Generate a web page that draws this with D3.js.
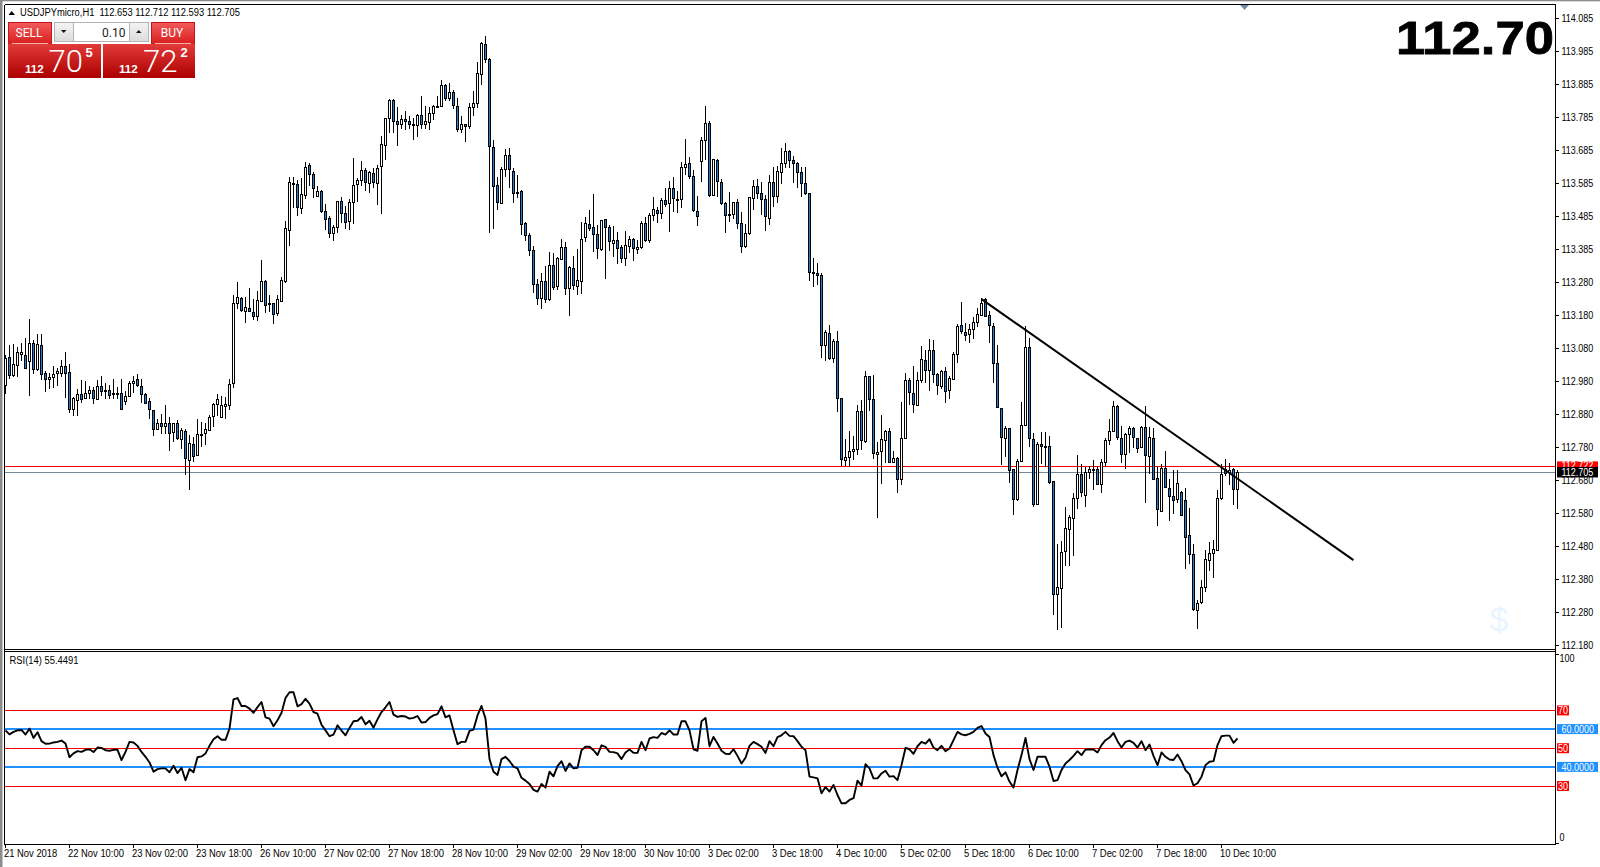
<!DOCTYPE html>
<html><head><meta charset="utf-8">
<script src="https://cdnjs.cloudflare.com/ajax/libs/d3/7.8.5/d3.min.js"></script>
<style>html,body{margin:0;padding:0;background:#fff}svg{display:block}text{font-family:"Liberation Sans",Arial,sans-serif}</style>
</head><body><svg id="c" width="1600" height="867"></svg>
<script>
const opens=[
112.971,113.056,113.002,113.031,113.062,113.060,113.043,113.099,113.019,113.093,
113.005,112.987,112.993,113.004,113.008,113.029,113.008,112.897,112.926,112.944,
112.932,112.947,112.956,112.929,112.968,112.956,112.956,112.947,112.947,112.947,
112.923,112.938,112.977,112.987,112.968,112.944,112.920,112.895,112.838,112.856,
112.847,112.856,112.825,112.853,112.806,112.829,112.743,112.792,112.758,112.819,
112.822,112.835,112.874,112.911,112.871,112.905,112.911,112.974,113.218,113.233,
113.196,113.205,113.193,113.178,113.227,113.287,113.218,113.218,113.187,113.227,
113.285,113.443,113.583,113.581,113.507,113.549,113.637,113.610,113.543,113.559,
113.498,113.476,113.431,113.449,113.528,113.492,113.467,113.525,113.580,113.592,
113.622,113.583,113.613,113.583,113.634,113.698,113.780,113.836,113.771,113.762,
113.777,113.771,113.764,113.758,113.789,113.762,113.768,113.795,113.817,113.816,
113.880,113.841,113.859,113.817,113.747,113.762,113.756,113.814,113.826,113.914,
114.005,113.959,113.694,113.577,113.522,113.625,113.668,113.619,113.557,113.558,
113.461,113.425,113.379,113.276,113.233,113.285,113.233,113.336,113.270,113.352,
113.388,113.264,113.324,113.270,113.288,113.418,113.458,113.449,113.428,113.382,
113.473,113.449,113.403,113.412,113.388,113.355,113.394,113.415,113.385,113.388,
113.461,113.409,113.485,113.501,113.491,113.531,113.522,113.567,113.534,113.534,
113.631,113.643,113.604,113.498,113.649,113.713,113.765,113.546,113.653,113.586,
113.522,113.488,113.488,113.525,113.461,113.391,113.431,113.537,113.574,113.552,
113.534,113.476,113.586,113.543,113.616,113.643,113.680,113.653,113.643,113.616,
113.583,113.552,113.312,113.309,113.304,113.090,113.127,113.051,113.103,112.929,
112.741,112.750,112.768,112.774,112.890,112.799,112.996,112.926,112.762,112.768,
112.802,112.829,112.735,112.747,112.683,112.808,112.984,112.945,112.908,112.984,
113.045,113.014,113.075,113.002,112.969,113.014,112.954,112.987,113.063,113.151,
113.130,113.124,113.139,113.160,113.182,113.231,113.182,113.148,113.036,112.899,
112.808,112.838,112.714,112.622,112.737,112.847,113.084,112.807,112.610,112.792,
112.786,112.786,112.677,112.333,112.355,112.464,112.534,112.567,112.628,112.701,
112.637,112.707,112.716,112.716,112.671,112.737,112.801,112.829,112.905,112.810,
112.759,112.820,112.838,112.810,112.780,112.841,112.756,112.810,112.686,112.589,
112.719,112.658,112.634,112.622,112.646,112.622,112.513,112.455,112.288,112.309,
112.355,112.440,112.461,112.470,112.628,112.715,112.707,112.715,112.653];
const highs=[
113.061,113.090,113.094,113.084,113.098,113.112,113.169,113.106,113.124,113.124,
113.011,113.005,113.027,113.023,113.047,113.069,113.035,112.932,112.959,112.985,
112.982,112.966,112.964,112.985,112.997,112.976,112.969,112.987,112.964,112.987,
112.952,112.982,112.997,113.002,112.987,112.946,112.930,112.895,112.868,112.881,
112.909,112.873,112.855,112.865,112.838,112.837,112.818,112.812,112.868,112.857,
112.855,112.878,112.914,112.942,112.938,112.934,112.987,113.242,113.284,113.236,
113.236,113.266,113.230,113.256,113.349,113.288,113.243,113.218,113.243,113.297,
113.467,113.601,113.603,113.593,113.598,113.647,113.644,113.618,113.576,113.561,
113.520,113.482,113.456,113.530,113.540,113.514,113.534,113.659,113.598,113.651,
113.628,113.621,113.628,113.639,113.725,113.780,113.839,113.839,113.816,113.790,
113.802,113.787,113.780,113.792,113.848,113.818,113.814,113.821,113.848,113.897,
113.884,113.887,113.866,113.841,113.787,113.762,113.826,113.863,113.951,114.012,
114.030,113.962,113.714,113.601,113.631,113.686,113.690,113.628,113.608,113.562,
113.466,113.431,113.392,113.291,113.309,113.333,113.373,113.370,113.358,113.413,
113.404,113.331,113.362,113.382,113.465,113.479,113.502,113.550,113.456,113.471,
113.475,113.457,113.453,113.435,113.394,113.438,113.423,113.418,113.412,113.467,
113.481,113.493,113.540,113.512,113.537,113.570,113.591,113.601,113.560,113.646,
113.716,113.662,113.623,113.544,113.722,113.818,113.771,113.656,113.656,113.595,
113.527,113.556,113.527,113.534,113.496,113.458,113.542,113.593,113.595,113.588,
113.546,113.608,113.631,113.635,113.689,113.704,113.684,113.666,113.646,113.631,
113.631,113.554,113.356,113.340,113.309,113.137,113.151,113.109,113.134,112.929,
112.805,112.830,112.815,112.908,112.924,113.012,112.998,113.000,112.796,112.879,
112.833,112.838,112.768,112.750,112.918,113.005,112.990,113.028,113.009,113.088,
113.076,113.109,113.107,113.005,113.017,113.024,112.997,113.070,113.155,113.221,
113.159,113.155,113.176,113.204,113.233,113.233,113.196,113.157,113.091,112.899,
112.845,112.840,112.714,112.744,112.918,113.149,113.112,112.825,112.797,112.827,
112.827,112.816,112.677,112.488,112.496,112.600,112.574,112.642,112.756,112.729,
112.721,112.725,112.742,112.721,112.744,112.810,112.867,112.921,112.910,112.845,
112.823,112.845,112.841,112.810,112.845,112.906,112.841,112.838,112.721,112.729,
112.768,112.683,112.713,112.713,112.648,112.656,112.595,112.488,112.316,112.377,
112.468,112.493,112.498,112.650,112.731,112.744,112.734,112.718,112.712];
const lows=[
112.944,112.989,112.993,112.995,113.043,113.021,112.937,113.003,113.013,112.985,
112.948,112.958,112.960,112.966,112.995,112.931,112.885,112.875,112.875,112.916,
112.932,112.928,112.912,112.928,112.938,112.928,112.926,112.926,112.926,112.897,
112.909,112.932,112.947,112.964,112.914,112.916,112.868,112.816,112.833,112.822,
112.820,112.770,112.797,112.802,112.777,112.697,112.652,112.736,112.754,112.782,
112.788,112.831,112.843,112.875,112.871,112.868,112.893,112.961,113.201,113.193,
113.159,113.193,113.167,113.165,113.224,113.189,113.191,113.155,113.181,113.224,
113.279,113.393,113.507,113.482,113.490,113.534,113.575,113.537,113.540,113.492,
113.441,113.416,113.406,113.433,113.461,113.443,113.441,113.459,113.527,113.575,
113.558,113.552,113.568,113.518,113.488,113.654,113.735,113.737,113.697,113.749,
113.745,113.749,113.714,113.724,113.749,113.749,113.745,113.775,113.811,113.814,
113.832,113.834,113.810,113.739,113.735,113.709,113.749,113.787,113.812,113.881,
113.949,113.431,113.445,113.502,113.522,113.603,113.568,113.524,113.537,113.427,
113.408,113.363,113.248,113.213,113.202,113.220,113.226,113.258,113.260,113.352,
113.244,113.180,113.258,113.244,113.246,113.404,113.439,113.374,113.354,113.378,
113.293,113.378,113.358,113.339,113.342,113.331,113.372,113.348,113.368,113.382,
113.404,113.402,113.469,113.463,113.475,113.510,113.436,113.495,113.493,113.508,
113.608,113.595,113.495,113.453,113.587,113.654,113.542,113.544,113.540,113.516,
113.433,113.466,113.475,113.445,113.370,113.386,113.426,113.502,113.534,113.487,
113.439,113.457,113.512,113.524,113.581,113.629,113.628,113.585,113.570,113.540,
113.546,113.287,113.269,113.274,113.052,113.044,113.046,113.036,112.889,112.724,
112.724,112.722,112.742,112.758,112.772,112.793,112.892,112.744,112.567,112.669,
112.732,112.734,112.734,112.641,112.665,112.808,112.908,112.886,112.908,112.975,
112.975,112.952,112.975,112.940,112.957,112.916,112.926,112.987,113.038,113.124,
113.105,113.099,113.109,113.147,113.180,113.176,113.097,112.975,112.899,112.728,
112.750,112.673,112.574,112.618,112.735,112.845,112.782,112.600,112.606,112.729,
112.721,112.669,112.271,112.227,112.231,112.419,112.419,112.450,112.592,112.630,
112.600,112.685,112.650,112.665,112.642,112.721,112.787,112.827,112.804,112.733,
112.715,112.762,112.780,112.762,112.779,112.612,112.701,112.681,112.541,112.586,
112.660,112.557,112.579,112.610,112.575,112.411,112.427,112.284,112.229,112.306,
112.340,112.405,112.385,112.468,112.620,112.693,112.666,112.605,112.593];
const closes=[
113.053,113.002,113.035,113.069,113.069,113.022,113.099,113.020,113.096,113.004,
112.987,112.993,113.002,113.011,113.029,113.008,112.897,112.929,112.944,112.929,
112.947,112.956,112.932,112.968,112.953,112.953,112.941,112.944,112.946,112.897,
112.938,112.977,112.983,112.968,112.944,112.917,112.895,112.838,112.856,112.847,
112.856,112.825,112.853,112.806,112.832,112.746,112.795,112.756,112.822,112.822,
112.835,112.874,112.911,112.926,112.908,112.911,112.974,113.218,113.236,113.196,
113.208,113.196,113.181,113.227,113.287,113.214,113.214,113.184,113.230,113.290,
113.446,113.588,113.580,113.510,113.550,113.633,113.610,113.568,113.559,113.498,
113.473,113.431,113.449,113.528,113.492,113.466,113.525,113.577,113.593,113.622,
113.586,113.616,113.586,113.628,113.701,113.780,113.836,113.771,113.762,113.777,
113.770,113.761,113.762,113.789,113.762,113.771,113.795,113.817,113.814,113.880,
113.841,113.859,113.819,113.747,113.762,113.756,113.814,113.826,113.917,114.008,
113.959,113.694,113.577,113.525,113.625,113.668,113.625,113.552,113.555,113.458,
113.425,113.379,113.275,113.233,113.285,113.230,113.336,113.270,113.355,113.388,
113.264,113.327,113.273,113.288,113.415,113.461,113.445,113.428,113.385,113.470,
113.449,113.406,113.412,113.388,113.355,113.394,113.415,113.388,113.390,113.461,
113.408,113.485,113.504,113.491,113.531,113.519,113.567,113.537,113.531,113.631,
113.640,113.604,113.501,113.482,113.713,113.765,113.546,113.656,113.588,113.522,
113.485,113.485,113.525,113.461,113.391,113.431,113.540,113.574,113.552,113.534,
113.482,113.586,113.543,113.619,113.643,113.680,113.653,113.643,113.616,113.583,
113.552,113.312,113.309,113.303,113.090,113.130,113.050,113.103,112.929,112.744,
112.750,112.768,112.774,112.890,112.802,112.996,112.926,112.762,112.767,112.805,
112.829,112.735,112.747,112.683,112.808,112.984,112.948,112.911,112.984,113.048,
113.014,113.075,113.002,112.969,113.014,112.954,112.990,113.063,113.148,113.133,
113.121,113.139,113.160,113.185,113.218,113.179,113.151,113.036,112.902,112.811,
112.838,112.711,112.622,112.738,112.847,113.084,112.807,112.610,112.792,112.786,
112.783,112.677,112.333,112.355,112.464,112.534,112.570,112.628,112.701,112.646,
112.707,112.716,112.713,112.671,112.737,112.804,112.829,112.905,112.810,112.762,
112.820,112.838,112.810,112.780,112.841,112.756,112.813,112.686,112.592,112.719,
112.662,112.634,112.622,112.671,112.576,112.510,112.455,112.288,112.309,112.355,
112.440,112.461,112.473,112.628,112.701,112.703,112.712,112.653,112.705];
const rsiValues=[
59.6,57.5,58.8,59.6,59.8,57.4,60.5,55.6,58.6,53.9,
52.5,52.6,53.2,53.5,54.2,52.6,45.4,47.4,48.6,48.2,
49.3,49.6,48.1,50.5,50.3,49.1,48.8,49.3,49.3,43.9,
48.2,53.5,53.2,51.4,48.2,45.6,42.6,37.7,39.1,39.5,
39.5,37.4,40.9,37.0,39.8,33.2,39.1,37.4,45.4,45.8,
47.4,51.4,54.9,56.5,54.6,54.6,60.5,76.0,76.7,72.5,
72.5,71.1,68.9,71.9,74.6,66.5,65.8,61.8,64.9,68.9,
76.7,79.8,79.8,72.3,73.5,76.3,73.7,69.3,68.4,62.6,
59.6,56.5,57.4,62.3,59.5,57.0,60.9,64.4,64.7,66.7,
62.8,64.7,61.0,65.4,69.3,71.8,74.6,67.9,66.7,67.2,
66.9,65.8,66.2,67.2,63.7,64.0,66.2,67.5,68.2,72.3,
66.5,67.5,59.6,52.3,53.5,53.5,59.3,60.0,67.5,72.5,
65.8,44.4,37.7,36.0,44.4,45.6,43.4,40.4,39.5,34.5,33.0,31.2,
28.1,27.2,31.2,29.3,37.7,35.3,40.7,43.3,38.1,42.1,
39.5,39.8,49.1,50.9,50.9,49.1,46.5,51.7,50.9,48.2,
48.1,47.4,44.4,47.9,49.5,47.7,47.7,53.5,49.1,55.3,
56.0,55.6,58.2,57.4,59.6,57.4,57.4,64.4,64.4,59.6,
49.6,48.8,64.4,66.2,51.2,56.1,52.6,48.8,47.2,47.0,
49.6,46.1,42.1,45.1,51.4,53.5,52.3,50.9,47.6,53.9,
51.2,56.0,57.0,58.8,56.7,56.5,53.9,50.9,49.1,35.1,
34.7,34.2,26.3,29.6,27.2,30.7,25.4,21.0,21.0,22.8,
23.7,33.0,30.4,41.7,39.5,34.2,34.2,36.8,38.2,35.1,
35.4,33.3,41.2,50.3,49.6,47.2,51.2,53.5,52.6,54.9,
50.5,49.1,51.4,48.6,50.0,54.4,58.8,57.5,57.0,57.7,
58.8,60.9,61.9,57.9,56.1,46.5,39.8,35.3,37.4,32.5,
29.3,38.6,46.5,55.6,44.4,38.6,45.6,45.6,45.6,40.4,
32.8,33.3,
38.6,42.1,43.9,46.1,48.6,46.5,49.5,49.6,49.5,47.9,
51.8,54.4,55.8,58.2,53.9,50.5,53.5,54.2,53.0,50.5,
53.9,49.1,52.1,46.1,41.2,47.9,45.6,44.2,43.9,46.8,
43.3,38.6,36.3,30.4,31.6,35.1,41.2,43.0,43.3,51.8,
56.5,56.8,56.8,53.0,55.4];
const priceTicks=["114.085","113.985","113.885","113.785","113.685","113.585","113.485","113.385","113.280","113.180","113.080","112.980","112.880","112.780","112.680","112.580","112.480","112.380","112.280","112.180"];
const timeLabels=["21 Nov 2018","22 Nov 10:00","23 Nov 02:00","23 Nov 18:00","26 Nov 10:00","27 Nov 02:00","27 Nov 18:00","28 Nov 10:00","29 Nov 02:00","29 Nov 18:00","30 Nov 10:00","3 Dec 02:00","3 Dec 18:00","4 Dec 10:00","5 Dec 02:00","5 Dec 18:00","6 Dec 10:00","7 Dec 02:00","7 Dec 18:00","10 Dec 10:00"];
const barsPerLabel=16;
const askPrice=112.722, bidPrice=112.705;
const rsiRed=[70,50,30], rsiBlue=[60,40];
const trendBars=[244,337], trendPrices=[113.231,112.438];

const W=1600,H=867,L=4.5,R=1555.5,T=4.5,B1=649.5,B2=651.5,B3=844.5;
const svg=d3.select("#c");
const defs=svg.append("defs");
function grad(id,a,b){const g=defs.append("linearGradient").attr("id",id).attr("x1",0).attr("y1",0).attr("x2",0).attr("y2",1);
 g.append("stop").attr("offset",0).attr("stop-color",a);g.append("stop").attr("offset",1).attr("stop-color",b);}
grad("gBtn","#f25a5a","#d81f1f");grad("gPrice","#e23a3a","#ad0000");grad("gSpin","#f4f4f4","#dcdcdc");

const x=d3.scaleLinear().domain([0,opens.length-1]).range([5.5,5.5+4*(opens.length-1)]);
const y=d3.scaleLinear().domain([112.18,114.085]).range([645,18]);
const ry=d3.scaleLinear().domain([0,100]).range([843,654]);
const px=v=>Math.round(v)+0.5;
const fx=v=>Math.floor(v)+0.5;
// squeeze a text to a share of its natural width (hinted UI fonts are tall and narrow)
const squeeze=(sel,f)=>sel.each(function(){this.setAttribute("textLength",this.getComputedTextLength()*f);this.setAttribute("lengthAdjust","spacingAndGlyphs");});

// frame chrome
svg.append("rect").attr("x",0).attr("y",0).attr("width",2.5).attr("height",H).attr("fill","#8c8c8c");
svg.append("rect").attr("x",0).attr("y",0).attr("width",W).attr("height",1.3).attr("fill","#8c8c8c");

// $ watermark
svg.append("text").attr("x",1499).attr("y",631).attr("text-anchor","middle").attr("font-size",33).attr("fill","#e8f4ff").text("$");

// hlines
const hl=(g,yy,c,w)=>g.append("line").attr("x1",L).attr("x2",R).attr("y1",yy).attr("y2",yy).attr("stroke",c).attr("stroke-width",w).attr("shape-rendering","crispEdges");
const main=svg.append("g");
hl(main,fx(y(bidPrice)),"#778899",1);
hl(main,fx(y(askPrice)),"#ff0000",1);

// candles
const idx=d3.range(opens.length);
const candles=main.append("g").attr("shape-rendering","crispEdges").selectAll("g").data(idx).join("g");
candles.append("line").attr("x1",i=>x(i)).attr("x2",i=>x(i)).attr("y1",i=>Math.round(y(highs[i]))).attr("y2",i=>Math.round(y(lows[i]))).attr("stroke","#000");
candles.append("rect").attr("x",i=>x(i)-1).attr("width",2)
 .attr("y",i=>px(y(Math.max(opens[i],closes[i]))))
 .attr("height",i=>Math.max(1,Math.round(Math.abs(y(opens[i])-y(closes[i])))))
 .attr("fill",i=>closes[i]<opens[i]?"#1e7fd8":"#fff").attr("stroke","#000");

// trendline
main.append("line").attr("x1",x(trendBars[0])).attr("y1",y(trendPrices[0])).attr("x2",x(trendBars[1])).attr("y2",y(trendPrices[1])).attr("stroke","#000").attr("stroke-width",2);

// small marker at top
svg.append("path").attr("d","M1240,5 L1249,5 L1244.5,10 Z").attr("fill","#6f8ca6");

// RSI
const rsi=svg.append("g");
rsiRed.forEach(v=>hl(rsi,fx(ry(v)),"#ff0000",1));
rsiBlue.forEach(v=>hl(rsi,Math.floor(ry(v)),"#1e90ff",2));
rsi.append("path").attr("fill","none").attr("stroke","#000").attr("stroke-width",1.9).attr("stroke-linejoin","round")
 .attr("d",d3.line().x((d,i)=>x(i)).y(d=>ry(d))(rsiValues));
squeeze(svg.append("text").attr("x",9.5).attr("y",664).attr("font-size",10).attr("fill","#000").text("RSI(14) 55.4491"),0.94);

// frames
const fr=(a,b,c,d)=>svg.append("line").attr("x1",a).attr("y1",b).attr("x2",c).attr("y2",d).attr("stroke","#000").attr("shape-rendering","crispEdges");
fr(L,T,R,T);fr(L,T,L,B3);fr(R,T,R,B3);fr(L,B1,R,B1);fr(L,B2,R,B2);fr(L,B3,R,B3);

// price axis
const tickY=i=>18+33*i;
const pa=svg.append("g");
pa.selectAll("line").data(priceTicks).join("line").attr("x1",R).attr("x2",R+3).attr("y1",(d,i)=>tickY(i)+.5).attr("y2",(d,i)=>tickY(i)+.5).attr("stroke","#000").attr("shape-rendering","crispEdges");
squeeze(pa.selectAll("text").data(priceTicks).join("text").attr("x",1561.5).attr("y",(d,i)=>tickY(i)+3.8).attr("font-size",10).attr("fill","#000").text(d=>d),0.9);
function tag(yy,txt,fill,x0,x1,h,tx,f){svg.append("rect").attr("x",x0).attr("y",yy-h/2).attr("width",x1-x0).attr("height",h).attr("fill",fill);
 squeeze(svg.append("text").attr("x",tx).attr("y",yy+3.6).attr("font-size",10).attr("fill","#fff").text(txt),f||0.9);}
tag(y(askPrice)-1.2,"112.722","#ff0000",1557,1598,8,1561.5);
tag(y(bidPrice),"112.705","#000",1557,1598,10.5,1561.5);

// rsi axis
const rt=svg.append("g");
[100,0].forEach(v=>{
 rt.append("line").attr("x1",R).attr("x2",R+3).attr("y1",px(ry(v))).attr("y2",px(ry(v))).attr("stroke","#000").attr("shape-rendering","crispEdges");
 squeeze(rt.append("text").attr("x",1559.5).attr("y",v?662:841).attr("font-size",10).text(v),0.9);
});
rsiRed.forEach(v=>tag(ry(v)-0.3,v,"#ff0000",1557,1569,10,1558));
rsiBlue.forEach(v=>tag(ry(v)-0.5,v.toFixed(4),"#1e90ff",1557,1598,10,1561.5));

// time axis
const ta=svg.append("g");
timeLabels.forEach((t,i)=>{
 const xx=x(i*barsPerLabel);
 ta.append("line").attr("x1",xx).attr("x2",xx).attr("y1",B3).attr("y2",B3+3.5).attr("stroke","#000").attr("shape-rendering","crispEdges");
 squeeze(ta.append("text").attr("x",xx-1.5).attr("y",857).attr("font-size",10).text(t),0.94);
});

// header
svg.append("path").attr("d","M8.5,15 L15,15 L11.7,11 Z").attr("fill","#000");
svg.append("text").attr("x",20).attr("y",16).attr("font-size",10).attr("fill","#000").attr("xml:space","preserve").attr("textLength",220).attr("lengthAdjust","spacingAndGlyphs").text("USDJPYmicro,H1  112.653 112.712 112.593 112.705");

// big price
svg.append("text").attr("x",1396).attr("y",53.5).attr("font-size",46).attr("font-weight","bold").attr("fill","#000").attr("stroke","#000").attr("stroke-width",0.8).attr("textLength",158).attr("lengthAdjust","spacingAndGlyphs").text("112.70");

// trade panel
const tp=svg.append("g");
const R2=(a,b,w,h,f,s)=>tp.append("rect").attr("x",a).attr("y",b).attr("width",w).attr("height",h).attr("fill",f).attr("stroke",s||"none").attr("shape-rendering","crispEdges");
const T2=(a,b,s,t,o={})=>tp.append("text").attr("x",a).attr("y",b).attr("font-size",s).attr("fill",o.f||"#fff").attr("font-weight",o.w||"normal").attr("text-anchor",o.a||"start").style("font-family",o.fam||null).text(t);
R2(8.5,22.5,43,21.5,"url(#gBtn)","#c81414");
R2(151.5,22.5,43,21.5,"url(#gBtn)","#c81414");
R2(8,44,92.7,34,"url(#gPrice)");
R2(103,44,92,34,"url(#gPrice)");
tp.append("line").attr("x1",12).attr("x2",48).attr("y1",43.5).attr("y2",43.5).attr("stroke","#f6b0b0").attr("shape-rendering","crispEdges");
tp.append("line").attr("x1",155).attr("x2",191).attr("y1",43.5).attr("y2",43.5).attr("stroke","#f6b0b0").attr("shape-rendering","crispEdges");
const thin='Roboto,"Liberation Sans",sans-serif';
T2(29,37,12,"SELL",{a:"middle",fam:thin});
T2(172,37,12,"BUY",{a:"middle",fam:thin});
R2(54.5,22.5,94,19,"#fff","#b4b4b4");
R2(54.5,22.5,19,19,"url(#gSpin)","#b4b4b4");
R2(129.5,22.5,19,19,"url(#gSpin)","#b4b4b4");
tp.append("path").attr("d","M61,30 L66.5,30 L63.7,33 Z").attr("fill","#111");
tp.append("path").attr("d","M136,33 L141.5,33 L138.7,30 Z").attr("fill","#111");
T2(125.5,36.5,12,"0.10",{f:"#222",a:"end",fam:thin});
T2(25,72.5,11.6,"112",{w:"bold"});
T2(48.5,72,31,"70",{w:300,fam:thin});
T2(85.5,57,13,"5",{w:"bold"});
T2(119,72.5,11.6,"112",{w:"bold"});
T2(143,72,31,"72",{w:300,fam:thin});
T2(180.5,57,13,"2",{w:"bold"});
</script></body></html>
